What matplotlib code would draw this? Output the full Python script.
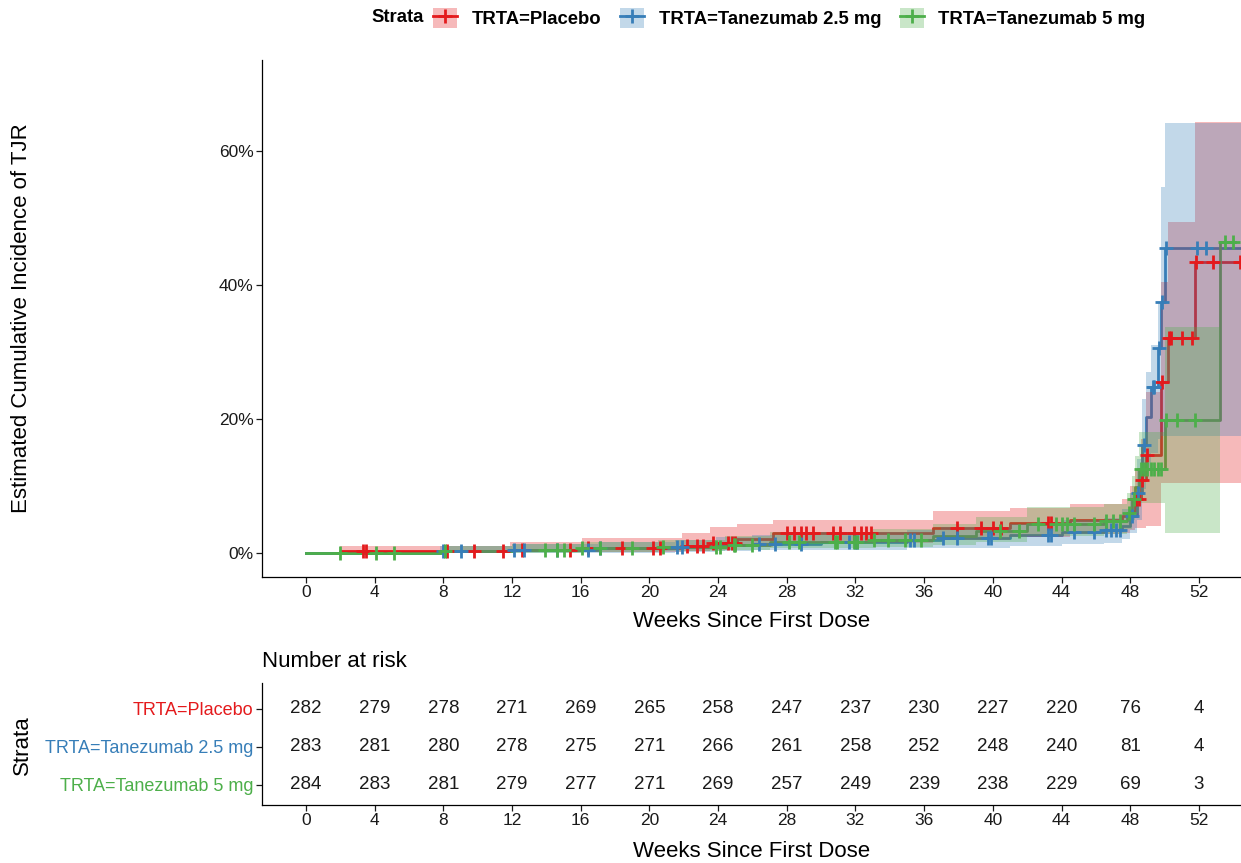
import numpy as np
import matplotlib
matplotlib.use("Agg")
import matplotlib.pyplot as plt
from matplotlib.patches import Patch
from matplotlib.lines import Line2D

plt.rcParams['font.family'] = ['Liberation Sans', 'DejaVu Sans']

# ---------------------------
# DATA (percent)
# ---------------------------
strata = ["TRTA=Placebo", "TRTA=Tanezumab 2.5 mg", "TRTA=Tanezumab 5 mg"]
colors = ["#E41A1C", "#377EB8", "#4DAF4A"]

pl_t = [0, 2.0, 11.9, 16.1, 21.9, 23.5, 25.1, 27.2, 36.5, 41.0, 44.5, 47.5, 48.0, 48.3, 48.6, 48.9, 49.8, 50.2, 51.8]
pl_est = [0, 0.35, 0.5, 0.8, 1.1, 1.5, 2.1, 3.0, 3.7, 4.5, 5.0, 5.5, 6.3, 8.0, 10.9, 14.6, 25.5, 32.1, 43.4]
pl_lo = [0, 0.05, 0.1, 0.2, 0.35, 0.5, 0.9, 1.5, 1.9, 2.4, 2.8, 3.0, 3.5, 3.7, 3.8, 4.0, 10.4, 10.4, 10.4]
pl_up = [0, 1.0, 1.7, 2.2, 3.0, 3.9, 4.4, 4.9, 6.2, 6.7, 7.3, 8.0, 10.0, 12.5, 17.0, 24.0, 40.4, 49.4, 64.3]
pl_cens = [3.3, 3.5, 8.2, 9.8, 11.5, 12.6, 15.4, 16.4, 18.4, 20.2, 20.6, 22.2, 22.8, 23.1, 23.7,
           24.6, 24.8, 25.0, 28.0, 28.4, 28.8, 29.1, 29.5, 30.7, 31.1, 31.9, 32.3, 32.6, 32.9,
           37.9, 39.3, 40.0, 40.5, 43.2, 43.4, 48.35, 48.5, 48.7, 49.0, 49.85, 50.25, 50.4, 51.0,
           51.6, 51.85, 52.8, 54.4]
pl_end = 54.6

t25 = [0, 7.8, 12.0, 17.0, 21.5, 23.9, 26.0, 30.0, 35.0, 37.0, 41.0, 44.0, 46.5, 47.5, 48.0, 48.4, 48.7, 48.9, 49.2, 49.6, 49.8, 50.0]
t25_est = [0, 0.35, 0.5, 0.7, 0.9, 1.2, 1.4, 1.7, 2.0, 2.3, 2.7, 3.1, 3.4, 4.0, 5.5, 9.0, 16.1, 20.3, 24.8, 30.6, 37.5, 45.5]
t25_lo = [0, 0.0, 0.0, 0.05, 0.15, 0.3, 0.4, 0.5, 0.7, 0.8, 1.0, 1.3, 1.5, 2.1, 3.0, 5.0, 9.5, 12.5, 15.0, 17.0, 17.5, 17.5]
t25_up = [0, 1.0, 1.3, 1.6, 2.0, 2.4, 2.7, 3.1, 3.5, 3.9, 4.4, 4.9, 5.3, 6.5, 9.0, 14.0, 23.0, 27.0, 31.0, 37.5, 54.6, 64.2]
t25_cens = [8.0, 9.0, 12.1, 12.7, 14.6, 16.4, 17.1, 21.6, 21.9, 26.4, 27.3, 28.8, 31.6, 32.0, 32.1,
            35.2, 35.4, 37.1, 37.9, 39.7, 39.9, 43.2, 43.4, 44.7, 45.9, 46.6, 46.9, 47.2, 47.4,
            48.1, 48.45, 48.8, 49.3, 49.4, 49.7, 49.85, 50.1, 51.9, 52.4]
t25_end = 55.0

t5 = [0, 7.9, 12.0, 16.0, 20.5, 24.4, 27.0, 33.0, 36.5, 39.0, 42.0, 46.5, 47.8, 48.1, 48.3, 48.5, 50.0, 53.2]
t5_est = [0, 0.35, 0.5, 0.7, 0.9, 1.2, 1.7, 2.0, 2.5, 3.3, 4.4, 4.8, 6.0, 8.0, 9.9, 12.6, 19.9, 46.4]
t5_lo = [0, 0.0, 0.05, 0.15, 0.3, 0.45, 0.7, 0.9, 1.2, 1.7, 2.5, 2.8, 3.6, 5.0, 6.0, 7.5, 3.0]
t5_up = [0, 1.0, 1.3, 1.6, 2.0, 2.5, 3.2, 3.6, 4.3, 5.4, 6.8, 7.3, 9.0, 11.5, 14.5, 18.0, 33.7]
t5_cens = [2.0, 4.1, 5.1, 8.1, 13.9, 14.6, 15.0, 16.1, 17.1, 19.0, 20.8, 23.9, 24.1, 24.9, 25.0,
           26.0, 28.1, 28.7, 30.8, 30.9, 31.9, 32.1, 33.1, 33.9, 34.9, 35.8, 40.4, 41.5, 42.6,
           43.7, 44.0, 44.3, 44.7, 45.9, 46.6, 47.0, 47.4, 47.9, 48.2, 48.6, 48.8, 49.0, 49.2,
           49.4, 49.6, 49.8, 50.1, 50.7, 51.8, 53.5, 54.0]
t5_end = 54.1

risk_times = [0, 4, 8, 12, 16, 20, 24, 28, 32, 36, 40, 44, 48, 52]
risk_pl = [282, 279, 278, 271, 269, 265, 258, 247, 237, 230, 227, 220, 76, 4]
risk_25 = [283, 281, 280, 278, 275, 271, 266, 261, 258, 252, 248, 240, 81, 4]
risk_5 = [284, 283, 281, 279, 277, 271, 269, 257, 249, 239, 238, 229, 69, 3]

groups = [
    (pl_t, pl_est, pl_lo, pl_up, pl_cens, pl_end),
    (t25, t25_est, t25_lo, t25_up, t25_cens, t25_end),
    (t5, t5_est, t5_lo, t5_up, t5_cens, t5_end),
]
risk = [risk_pl, risk_25, risk_5]

W, H = 1241, 863
fig = plt.figure(figsize=(W / 100, H / 100), dpi=100)
ax = fig.add_axes([262 / W, 1 - 577 / H, 979 / W, (577 - 60) / H])
axr = fig.add_axes([262 / W, 1 - 805 / H, 979 / W, (805 - 683) / H])

XLIM = (-2.56, 54.45)
xt = np.arange(0, 53, 4)


def close_steps(t, v, end):
    return np.append(np.asarray(t, float), end), np.append(np.asarray(v, float), v[-1])


# lines first, ribbons over them, censor marks on top
for (t, est, lo, up, cens, end), c in zip(groups, colors):
    tx, ex = close_steps(t, est, end)
    ax.step(tx, ex, where='post', color=c, lw=2, zorder=2)

for (t, est, lo, up, cens, end), c in zip(groups, colors):
    band_end = end if len(lo) == len(t) else t[len(lo)]
    tb, lb = close_steps(t[:len(lo)], lo, band_end)
    _, ub = close_steps(t[:len(up)], up, band_end)
    ax.fill_between(tb, lb, ub, step='post', color=c, alpha=0.3, lw=0, zorder=3)

for (t, est, lo, up, cens, end), c in zip(groups, colors):
    idx = np.searchsorted(t, cens, side='right') - 1
    ax.plot(cens, np.asarray(est)[idx], ls='none', marker='+', ms=10, mew=2, color=c, zorder=4)

ax.set_xlim(XLIM)
ax.set_ylim(-3.58, 73.6)
ax.set_xticks(xt)
ax.set_yticks([0, 20, 40, 60])
ax.set_yticklabels(["0%", "20%", "40%", "60%"])
for a in (ax, axr):
    a.spines['top'].set_visible(False)
    a.spines['right'].set_visible(False)
    a.spines['left'].set_linewidth(0.9)
    a.spines['bottom'].set_linewidth(0.9)
    a.tick_params(length=4, width=0.9, pad=2, labelsize=12.5, colors='#1a1a1a')
ax.set_xlabel("Weeks Since First Dose", fontsize=16, labelpad=8)
fig.text(22 / W, 1 - 318 / H, "Estimated Cumulative Incidence of TJR", rotation=90,
         ha='center', va='center', fontsize=16)

# legend
handles = [(Patch(facecolor=c, alpha=0.3, lw=0),
            Line2D([], [], color=c, marker='+', ms=10, mew=2, lw=2)) for c in colors]
leg = fig.legend(handles, strata, loc='center left', bbox_to_anchor=(433 / W, 1 - 18 / H),
                 ncol=3, frameon=False, handlelength=1.3, handleheight=1.3,
                 handletextpad=0.8, columnspacing=1.0, borderpad=0, borderaxespad=0,
                 prop={'size': 13.3, 'weight': 'bold'})
fig.text(424 / W, 1 - 18 / H, "Strata", ha='right', va='center',
         fontsize=13.3, fontweight='bold')

# risk table
rows = [3, 2, 1]
for vals, y in zip(risk, rows):
    for tt, n in zip(risk_times, vals):
        axr.text(tt, y, str(n), ha='center', va='center', fontsize=13.5, color='#1a1a1a')
axr.set_xlim(XLIM)
axr.set_ylim(0.47, 3.68)
axr.set_xticks(xt)
axr.set_yticks(rows)
axr.set_yticklabels(strata)
axr.tick_params(axis='y', labelsize=13)
for lab, c in zip(axr.get_yticklabels(), colors):
    lab.set_color(c)
axr.set_xlabel("Weeks Since First Dose", fontsize=16, labelpad=9)
fig.text(22 / W, 1 - 745 / H, "Strata", rotation=90, ha='center', va='center', fontsize=16)
fig.text(262 / W, 1 - 661 / H, "Number at risk", ha='left', va='center', fontsize=16)

fig.savefig("out.png", dpi=100)
